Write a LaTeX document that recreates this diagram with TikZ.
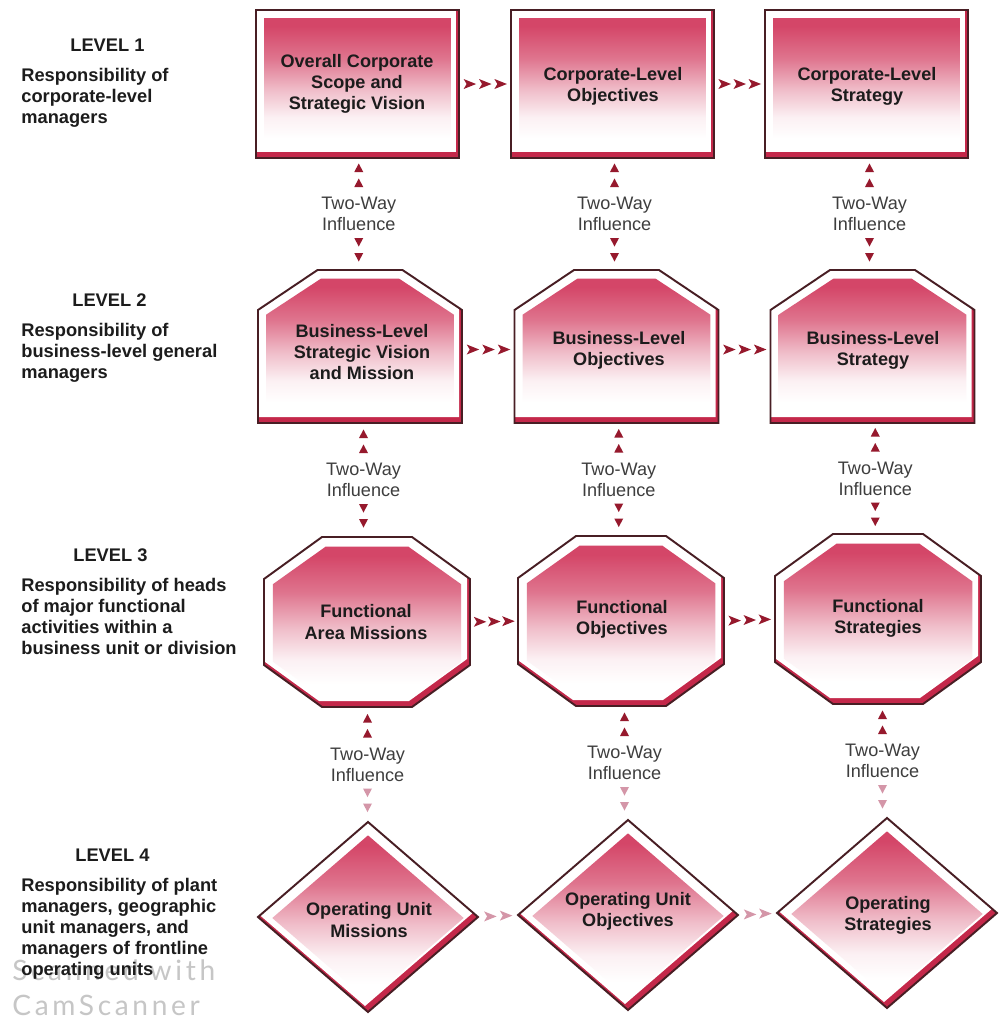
\documentclass[tikz,border=0pt]{standalone}
\usepackage{fontspec}
\setmainfont{Liberation Sans}
\newfontfamily\wmfont[LetterSpace=13]{Lato}
\usetikzlibrary{calc}
\definecolor{pinkT}{RGB}{212,70,104}
\colorlet{pinkA}{pinkT!75!white}
\colorlet{pinkM}{pinkT!35!white}
\colorlet{pinkL}{pinkT!8!white}
\definecolor{bandc}{RGB}{196,40,74}
\definecolor{bordc}{RGB}{72,30,36}
\definecolor{arrc}{RGB}{150,25,45}
\definecolor{arrf}{RGB}{212,150,168}
\definecolor{txtc}{RGB}{28,28,28}
\pgfdeclareverticalshading{innershade}{100bp}{color(0bp)=(white); color(30bp)=(white); color(38bp)=(pinkL); color(48bp)=(pinkM); color(60bp)=(pinkA); color(72bp)=(pinkT); color(100bp)=(pinkT)}
\def\RectP{(-101.5,-74) rectangle (101.5,74)}
\def\HouseP{(-102,76.5) -- (-102,-36.5) -- (-42.5,-76.5) -- (42.5,-76.5) -- (102,-36.5) -- (102,76.5) -- cycle}
\def\OctP{(-45,-85) -- (45,-85) -- (103,-43) -- (103,43) -- (45,85) -- (-45,85) -- (-103,43) -- (-103,-43) -- cycle}
\def\DiaP{(0,-95) -- (110,0) -- (0,95) -- (-110,0) -- cycle}
\newcommand\fancyshape[5]{%
  \begin{scope}[shift={(#1,#2)}]
    \fill[bandc] #3;
    \begin{scope}
      \clip #3;
      \fill[white,shift={(-3,-6)}] #3;
    \end{scope}
    \shade[shading=innershade,shift={(0,1)},xscale=#4,yscale=#5] #3;
    \draw[bordc,line width=1.1pt,line join=miter] #3;
  \end{scope}}
\tikzset{
  rtri/.pic={\fill (6.5,0) -- (-6,-5) -- (-3,0) -- (-6,5) -- cycle;},
  utri/.pic={\fill (0,-4.5) -- (4.5,4) -- (-4.5,4) -- cycle;},
  dtri/.pic={\fill (0,4.5) -- (4.5,-4) -- (-4.5,-4) -- cycle;},
}
\begin{document}
\begin{tikzpicture}[x=0.02cm,y=-0.02cm,
  shapenode/.style={inner sep=0pt, draw=none},
  boxtext/.style={font=\fontsize{10.3}{12}\selectfont\bfseries, text=txtc, align=center, inner sep=0pt},
  twoway/.style={font=\fontsize{10.3}{12}\selectfont, text=txtc!85, align=center, inner sep=0pt},
  lvl/.style={font=\fontsize{10.4}{12}\selectfont\bfseries, text=txtc, anchor=base west, inner sep=0pt},
  resp/.style={font=\fontsize{10.4}{12}\selectfont\bfseries, text=txtc, align=left, anchor=north west, inner sep=0pt}]
\fill[white] (0,0) rectangle (1001,1025);
\path[use as bounding box] (0,0) rectangle (1001,1025);

% watermark
\node[anchor=base west, font=\wmfont\fontsize{16}{19}\selectfont, text=gray!45, inner sep=0pt] (wm1) at (12,980) {Scanned with};
\node[anchor=base west, font=\wmfont\fontsize{16}{19}\selectfont, text=gray!45, inner sep=0pt] (wm2) at (12,1015) {CamScanner};

% shapes
\foreach \x/\y in {357.5/84, 612.5/84, 866.5/84} {\fancyshape{\x}{\y}{\RectP}{0.921}{0.905}}
\foreach \x/\y in {360/346.5, 616.5/346.5, 872.5/346.5} {\fancyshape{\x}{\y}{\HouseP}{0.92}{0.9}}
\foreach \x/\y in {367/622, 621/621, 878/619} {\fancyshape{\x}{\y}{\OctP}{0.915}{0.9}}
\foreach \x/\y in {368/917, 628/915, 887/913} {\fancyshape{\x}{\y}{\DiaP}{0.87}{0.87}}

% shape nodes
\node[shapenode, minimum width=203*0.02cm, minimum height=148*0.02cm] (b11) at (357.5,84) {};
\node[shapenode, minimum width=203*0.02cm, minimum height=148*0.02cm] (b12) at (612.5,84) {};
\node[shapenode, minimum width=203*0.02cm, minimum height=148*0.02cm] (b13) at (866.5,84) {};
\node[shapenode, minimum width=204*0.02cm, minimum height=153*0.02cm] (b21) at (360,346.5) {};
\node[shapenode, minimum width=204*0.02cm, minimum height=153*0.02cm] (b22) at (616.5,346.5) {};
\node[shapenode, minimum width=204*0.02cm, minimum height=153*0.02cm] (b23) at (872.5,346.5) {};
\node[shapenode, minimum width=206*0.02cm, minimum height=170*0.02cm] (b31) at (367,622) {};
\node[shapenode, minimum width=206*0.02cm, minimum height=170*0.02cm] (b32) at (621,621) {};
\node[shapenode, minimum width=206*0.02cm, minimum height=170*0.02cm] (b33) at (878,619) {};
\node[shapenode, minimum width=220*0.02cm, minimum height=190*0.02cm] (b41) at (368,917) {};
\node[shapenode, minimum width=220*0.02cm, minimum height=190*0.02cm] (b42) at (628,915) {};
\node[shapenode, minimum width=220*0.02cm, minimum height=190*0.02cm] (b43) at (887,913) {};

% box texts
\node[boxtext] (t11) at (357,84) {Overall Corporate\\Scope and\\Strategic Vision};
\node[boxtext] (t12) at (613,86) {Corporate-Level\\Objectives};
\node[boxtext] (t13) at (867,86) {Corporate-Level\\Strategy};
\node[boxtext] (t21) at (362,352) {Business-Level\\Strategic Vision\\and Mission};
\node[boxtext] (t22) at (619,350) {Business-Level\\Objectives};
\node[boxtext] (t23) at (873,350) {Business-Level\\Strategy};
\node[boxtext] (t31) at (366,622) {Functional\\Area Missions};
\node[boxtext] (t32) at (622,619) {Functional\\Objectives};
\node[boxtext] (t33) at (878,618) {Functional\\Strategies};
\node[boxtext] (t41) at (369,920) {Operating Unit\\Missions};
\node[boxtext] (t42) at (628,911) {Operating Unit\\Objectives};
\node[boxtext] (t43) at (888,915) {Operating\\Strategies};

% horizontal arrowheads
\foreach \a/\b/\dy in {b11/b12/0, b12/b13/0, b21/b22/3, b22/b23/3, b31/b32/0, b32/b33/0} {
  \foreach \t in {0.2,0.5,0.8}
    \pic[arrc] at ($(\a.east)!\t!(\b.west)+(0,\dy)$) {rtri};
}
\foreach \a/\b in {b41/b42, b42/b43} {
  \foreach \t in {0.3,0.7}
    \pic[arrf] at ($(\a.east)!\t!(\b.west)$) {rtri};
}

% vertical two-way influence
\foreach \a/\b/\n/\dc in {b11/b21/v1/arrc, b12/b22/v2/arrc, b13/b23/v3/arrc,
                          b21/b31/v4/arrc, b22/b32/v5/arrc, b23/b33/v6/arrc,
                          b31/b41/v7/arrf, b32/b42/v8/arrf, b33/b43/v9/arrf} {
  \coordinate (\n) at ($(\a.south)!0.5!(\b.north)$);
  \pic[arrc] at ($(\n)+(0,-46)$) {utri};
  \pic[arrc] at ($(\n)+(0,-31)$) {utri};
  \node[twoway] (\n-lab) at (\n) {Two-Way\\Influence};
  \pic[\dc] at ($(\n)+(0,28)$) {dtri};
  \pic[\dc] at ($(\n)+(0,43)$) {dtri};
}

% level labels
\node[lvl] (l1) at (70,51.5) {LEVEL 1};
\node[resp] (r1) at (21,68) {Responsibility of\\corporate-level\\managers};
\node[lvl] (l2) at (72,306.5) {LEVEL 2};
\node[resp] (r2) at (21,323) {Responsibility of\\business-level general\\managers};
\node[lvl] (l3) at (73,561.5) {LEVEL 3};
\node[resp] (r3) at (21,578) {Responsibility of heads\\of major functional\\activities within a\\business unit or division};
\node[lvl] (l4) at (75,861.5) {LEVEL 4};
\node[resp] (r4) at (21,878) {Responsibility of plant\\managers, geographic\\unit managers, and\\managers of frontline\\operating units};
\end{tikzpicture}
\end{document}
